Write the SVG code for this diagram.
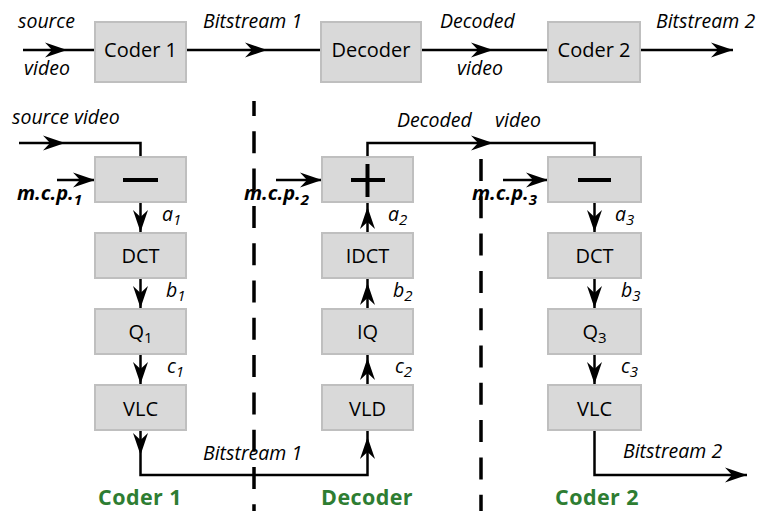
<svg xmlns="http://www.w3.org/2000/svg" xmlns:xlink="http://www.w3.org/1999/xlink" width="764" height="511" viewBox="0 0 764 511">
<style>
.box{fill:#d9d9d9;stroke:#bfbfbf;stroke-width:2}
.lbl{font-family:"Open Sans","Liberation Sans",sans-serif;font-size:20px;fill:#000;text-anchor:middle}
.it{font-family:"Open Sans","Liberation Sans",sans-serif;font-size:19.5px;font-style:italic;fill:#000}
.mcp{font-family:"Open Sans","Liberation Sans",sans-serif;font-size:20px;font-style:italic;font-weight:bold;fill:#000}
.grn{font-family:"Open Sans","Liberation Sans",sans-serif;font-size:21.5px;font-weight:bold;fill:#2e7d32;text-anchor:middle;letter-spacing:0.4px}
.ln{fill:none;stroke:#000;stroke-width:2.5}
.dash{fill:none;stroke:#000;stroke-width:3.5;stroke-dasharray:22 15.3}
.sign{fill:none;stroke:#000;stroke-width:4}
.sub{font-size:15px}
</style>
<defs>
<path id="ah" d="M0,0 L-22,-7.5 L-15,0 L-22,7.5 Z" fill="#000"/>
</defs>

<g id="dividers">
<line class="dash" x1="254" y1="101" x2="254" y2="511" style="stroke-dashoffset:7"/>
<line class="dash" x1="481" y1="159" x2="481" y2="511"/>
</g>

<g id="connectors">
<line class="ln" x1="23" y1="50" x2="95" y2="50"/>
<use xlink:href="#ah" transform="translate(67,50)"/>
<line class="ln" x1="186" y1="50" x2="321" y2="50"/>
<use xlink:href="#ah" transform="translate(267,50)"/>
<line class="ln" x1="421" y1="50" x2="548" y2="50"/>
<use xlink:href="#ah" transform="translate(493,50)"/>
<line class="ln" x1="640" y1="50" x2="733" y2="50"/>
<use xlink:href="#ah" transform="translate(733,50)"/>
<polyline class="ln" points="19,143 140.5,143 140.5,157"/>
<use xlink:href="#ah" transform="translate(65,143)"/>
<line class="ln" x1="57" y1="180" x2="95" y2="180"/>
<use xlink:href="#ah" transform="translate(95,180)"/>
<line class="ln" x1="276" y1="180" x2="322" y2="180"/>
<use xlink:href="#ah" transform="translate(322,180)"/>
<line class="ln" x1="503" y1="180" x2="548" y2="180"/>
<use xlink:href="#ah" transform="translate(548,180)"/>
<line class="ln" x1="140.5" y1="202" x2="140.5" y2="233"/>
<use xlink:href="#ah" transform="translate(140.5,232) rotate(90)"/>
<line class="ln" x1="140.5" y1="278" x2="140.5" y2="309"/>
<use xlink:href="#ah" transform="translate(140.5,308) rotate(90)"/>
<line class="ln" x1="140.5" y1="354" x2="140.5" y2="385"/>
<use xlink:href="#ah" transform="translate(140.5,384) rotate(90)"/>
<polyline class="ln" points="140.5,430 140.5,475 367.5,475 367.5,430"/>
<use xlink:href="#ah" transform="translate(140.5,455) rotate(90)"/>
<use xlink:href="#ah" transform="translate(367.5,437) rotate(-90)"/>
<line class="ln" x1="367.5" y1="233" x2="367.5" y2="202"/>
<use xlink:href="#ah" transform="translate(367.5,207) rotate(-90)"/>
<line class="ln" x1="367.5" y1="309" x2="367.5" y2="278"/>
<use xlink:href="#ah" transform="translate(367.5,283) rotate(-90)"/>
<line class="ln" x1="367.5" y1="385" x2="367.5" y2="354"/>
<use xlink:href="#ah" transform="translate(367.5,358) rotate(-90)"/>
<polyline class="ln" points="367.5,157 367.5,143 594.5,143 594.5,157"/>
<use xlink:href="#ah" transform="translate(493,143)"/>
<line class="ln" x1="594.5" y1="202" x2="594.5" y2="233"/>
<use xlink:href="#ah" transform="translate(594.5,232) rotate(90)"/>
<line class="ln" x1="594.5" y1="278" x2="594.5" y2="309"/>
<use xlink:href="#ah" transform="translate(594.5,308) rotate(90)"/>
<line class="ln" x1="594.5" y1="354" x2="594.5" y2="385"/>
<use xlink:href="#ah" transform="translate(594.5,384) rotate(90)"/>
<polyline class="ln" points="594.5,430 594.5,475 747,475"/>
<use xlink:href="#ah" transform="translate(747,475)"/>
</g>

<g id="top-coder1"><rect class="box" x="95" y="22" width="91" height="60"/><text class="lbl" x="140.5" y="57">Coder 1</text></g>
<g id="top-decoder"><rect class="box" x="321" y="22" width="100" height="60"/><text class="lbl" x="371" y="57">Decoder</text></g>
<g id="top-coder2"><rect class="box" x="548" y="22" width="92" height="60"/><text class="lbl" x="594" y="57">Coder 2</text></g>

<g id="c1-sub"><rect class="box" x="95" y="157" width="91" height="45"/><line class="sign" x1="123" y1="180" x2="158" y2="180"/></g>
<g id="c1-dct"><rect class="box" x="95" y="233" width="91" height="45"/><text class="lbl" x="140.5" y="263">DCT</text></g>
<g id="c1-q"><rect class="box" x="95" y="309" width="91" height="45"/><text class="lbl" x="140.5" y="339">Q<tspan class="sub" dy="4">1</tspan></text></g>
<g id="c1-vlc"><rect class="box" x="95" y="385" width="91" height="45"/><text class="lbl" x="140.5" y="416">VLC</text></g>

<g id="d-add"><rect class="box" x="322" y="157" width="91" height="45"/><line class="sign" x1="351" y1="180" x2="385" y2="180"/><line class="sign" x1="367.5" y1="164" x2="367.5" y2="197"/></g>
<g id="d-idct"><rect class="box" x="322" y="233" width="91" height="45"/><text class="lbl" x="367.5" y="263">IDCT</text></g>
<g id="d-iq"><rect class="box" x="322" y="309" width="91" height="45"/><text class="lbl" x="367.5" y="339">IQ</text></g>
<g id="d-vld"><rect class="box" x="322" y="385" width="91" height="45"/><text class="lbl" x="367.5" y="416">VLD</text></g>

<g id="c2-sub"><rect class="box" x="548" y="157" width="93" height="45"/><line class="sign" x1="578" y1="180" x2="611" y2="180"/></g>
<g id="c2-dct"><rect class="box" x="548" y="233" width="93" height="45"/><text class="lbl" x="594.5" y="263">DCT</text></g>
<g id="c2-q"><rect class="box" x="548" y="309" width="93" height="45"/><text class="lbl" x="594.5" y="339">Q<tspan class="sub" dy="4">3</tspan></text></g>
<g id="c2-vlc"><rect class="box" x="548" y="385" width="93" height="45"/><text class="lbl" x="594.5" y="416">VLC</text></g>

<g id="labels">
<text class="it" x="18" y="28">source</text>
<text class="it" x="24" y="75">video</text>
<text class="it" x="203" y="28">Bitstream 1</text>
<text class="it" x="440" y="28">Decoded</text>
<text class="it" x="457" y="75">video</text>
<text class="it" x="656" y="28">Bitstream 2</text>

<text class="it" x="12" y="124">source video</text>
<text class="it" x="397" y="127">Decoded</text>
<text class="it" x="495" y="127">video</text>

<text class="mcp" x="17" y="200">m.c.p.<tspan class="sub" dy="5">1</tspan></text>
<text class="mcp" x="244" y="200">m.c.p.<tspan class="sub" dy="5">2</tspan></text>
<text class="mcp" x="472" y="200">m.c.p.<tspan class="sub" dy="5">3</tspan></text>

<text class="it" x="162" y="221">a<tspan class="sub" dy="4">1</tspan></text>
<text class="it" x="166" y="297">b<tspan class="sub" dy="4">1</tspan></text>
<text class="it" x="167" y="373">c<tspan class="sub" dy="4">1</tspan></text>
<text class="it" x="388" y="221">a<tspan class="sub" dy="4">2</tspan></text>
<text class="it" x="393" y="297">b<tspan class="sub" dy="4">2</tspan></text>
<text class="it" x="395" y="373">c<tspan class="sub" dy="4">2</tspan></text>
<text class="it" x="615" y="221">a<tspan class="sub" dy="4">3</tspan></text>
<text class="it" x="621" y="297">b<tspan class="sub" dy="4">3</tspan></text>
<text class="it" x="621" y="373">c<tspan class="sub" dy="4">3</tspan></text>

<text class="it" x="203" y="460">Bitstream 1</text>
<text class="it" x="623" y="458">Bitstream 2</text>

<text class="grn" x="140" y="505">Coder 1</text>
<text class="grn" x="367" y="505">Decoder</text>
<text class="grn" x="597" y="505">Coder 2</text>
</g>
</svg>
